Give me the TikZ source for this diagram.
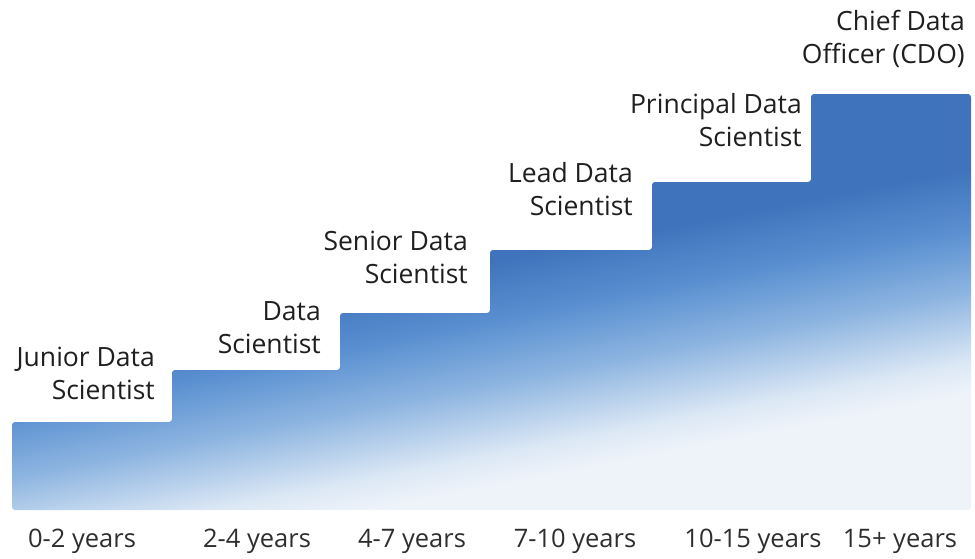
\documentclass[tikz,border=0pt]{standalone}
\usepackage{fontspec}
\setmainfont{Open Sans}
\definecolor{stairtop}{HTML}{3F74BC}
\definecolor{stairmid}{HTML}{5A90D1}
\definecolor{stairsoft}{HTML}{8CB4E0}
\definecolor{stairpale}{HTML}{DCE8F5}
\definecolor{stairend}{HTML}{EEF3FA}
\pgfdeclareverticalshading{stairfade}{100bp}{color(0bp)=(stairend); color(32bp)=(stairend);
  color(35bp)=(stairpale); color(42bp)=(stairsoft); color(48bp)=(stairmid);
  color(54bp)=(stairtop); color(100bp)=(stairtop)}
\begin{document}
\begin{tikzpicture}[x=1pt,y=-1pt,
  role/.style={anchor=south east,align=right,inner sep=0pt,text=black!88,
    font=\fontsize{26.5}{33}\selectfont},
  span/.style={anchor=center,inner sep=0pt,text=black!82,
    font=\fontsize{25.5}{28}\selectfont}]
\useasboundingbox (0,0) rectangle (975,558);

% Staircase
\shade[shading=stairfade,shading angle=11,rounded corners=3pt]
  (12,510) -- (12,422) -- (172,422) -- (172,370) -- (340,370) -- (340,313)
  -- (490,313) -- (490,250) -- (652,250) -- (652,182) -- (811,182)
  -- (811,94) -- (971,94) -- (971,510) -- cycle;

% Roles
\node[role] (junior) at (155,400) {Junior Data\\Scientist};
\node[role] (ds) at (321,354) {Data\\Scientist};
\node[role] (senior) at (468,284) {Senior Data\\Scientist};
\node[role] (lead) at (633,216) {Lead Data\\Scientist};
\node[role] (principal) at (802,147) {Principal Data\\Scientist};
\node[role] (cdo) at (965,68) {Chief Data\\Officer (CDO)};

% Years
\node[span] (y1) at (82,541) {0-2 years};
\node[span] (y2) at (257,541) {2-4 years};
\node[span] (y3) at (412,541) {4-7 years};
\node[span] (y4) at (575,541) {7-10 years};
\node[span] (y5) at (753,541) {10-15 years};
\node[span] (y6) at (900,541) {15+ years};
\end{tikzpicture}
\end{document}
